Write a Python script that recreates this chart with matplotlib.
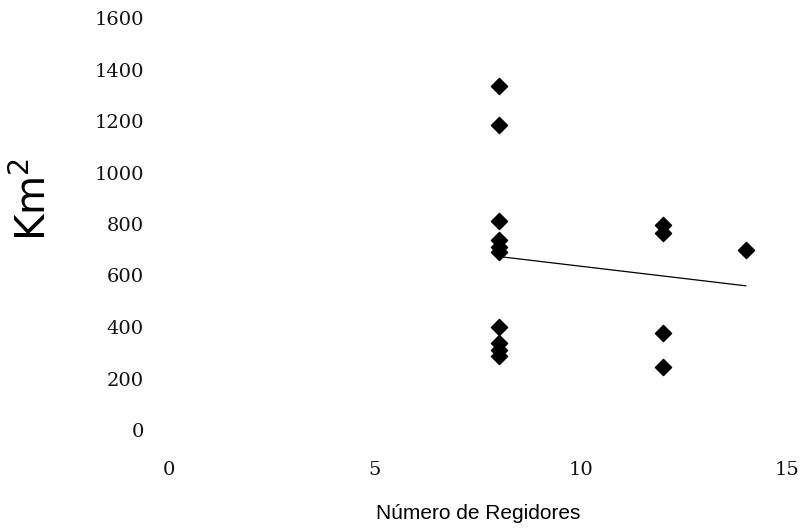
import matplotlib
matplotlib.use("Agg")
import matplotlib.pyplot as plt
import numpy as np

# Número de regidores vs área (km2)
regidores = [8, 8, 8, 8, 8, 8, 8, 8, 8, 8, 12, 12, 12, 12, 14]
area_km2 = [1336, 1184, 812, 738, 711, 691, 400, 338, 311, 287, 796, 765, 377, 245, 699]

x_ticks = [0, 5, 10, 15]
y_ticks = [0, 200, 400, 600, 800, 1000, 1200, 1400, 1600]

x = np.array(regidores)
y = np.array(area_km2)

# linear trend line
slope, intercept = np.polyfit(x, y, 1)
x_fit = np.array([x.min(), x.max()])
y_fit = slope * x_fit + intercept

fig = plt.figure(figsize=(8.05, 5.28), dpi=100)
ax = fig.add_axes([169 / 805, (528 - 430) / 528, 618 / 805, 412 / 528])

ax.scatter(x, y, marker='D', s=68, color='black', zorder=3)
ax.plot(x_fit, y_fit, color='black', linewidth=0.9)

ax.set_xlim(0, 15)
ax.set_ylim(0, 1600)
ax.set_xticks(x_ticks)
ax.set_yticks(y_ticks)

for side in ['top', 'right', 'bottom', 'left']:
    ax.spines[side].set_visible(False)
ax.tick_params(length=0)
ax.tick_params(axis='x', pad=22)
ax.tick_params(axis='y', pad=18)
for lbl in ax.get_xticklabels() + ax.get_yticklabels():
    lbl.set_fontfamily('DejaVu Serif')
    lbl.set_fontsize(14)
    lbl.set_color('#111111')

ax.set_xlabel('Número de Regidores', fontsize=15, family='Liberation Sans', labelpad=18)
ax.set_ylabel('Km$^2$', fontsize=29, family='DejaVu Sans')
ax.yaxis.set_label_coords(-0.185, 0.56)

fig.savefig('out.png', dpi=100)
